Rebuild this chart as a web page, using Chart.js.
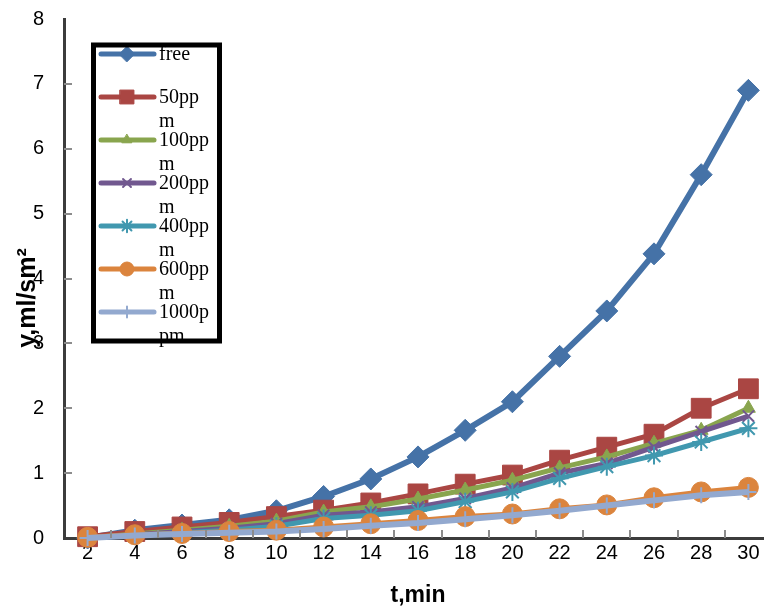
<!DOCTYPE html>
<html>
<head>
<meta charset="utf-8">
<script src="https://cdn.jsdelivr.net/npm/chart.js@4.4.1/dist/chart.umd.min.js"></script>
<style>
  body { margin: 0; overflow: hidden; background: #fff; }
  #wrap { position: relative; width: 800px; height: 609px; }
</style>
</head>
<body>
<div id="wrap"><canvas id="chart"></canvas></div>
<script>
// t, min
const timeLabels = ['2', '4', '6', '8', '10', '12', '14', '16', '18', '20', '22', '24', '26', '28', '30'];
const seriesNames = ['free', '50ppm', '100ppm', '200ppm', '400ppm', '600ppm', '1000ppm'];

// y, ml/sm2
const freeData   = [0, 0.12, 0.2, 0.28, 0.42, 0.64, 0.91, 1.25, 1.66, 2.1, 2.8, 3.5, 4.38, 5.6, 6.9];
const ppm50Data  = [0.02, 0.1, 0.17, 0.24, 0.33, 0.43, 0.54, 0.68, 0.83, 0.97, 1.2, 1.4, 1.6, 2.0, 2.3];
const ppm100Data = [0, 0.06, 0.12, 0.18, 0.26, 0.4, 0.48, 0.6, 0.74, 0.89, 1.08, 1.25, 1.46, 1.66, 2.0];
const ppm200Data = [0, 0.05, 0.1, 0.15, 0.22, 0.35, 0.4, 0.48, 0.61, 0.77, 1.0, 1.15, 1.4, 1.64, 1.88];
const ppm400Data = [0, 0.04, 0.08, 0.12, 0.18, 0.3, 0.35, 0.42, 0.56, 0.71, 0.92, 1.1, 1.27, 1.48, 1.69];
const ppm600Data = [0.01, 0.05, 0.07, 0.1, 0.12, 0.17, 0.22, 0.27, 0.33, 0.37, 0.45, 0.51, 0.62, 0.71, 0.78];
const ppm1000Data = [0, 0.04, 0.06, 0.08, 0.1, 0.14, 0.19, 0.23, 0.29, 0.35, 0.42, 0.5, 0.58, 0.66, 0.71];

const yTicks = [0, 1, 2, 3, 4, 5, 6, 7, 8];

const sans = '"Liberation Sans", Arial, sans-serif';
const serif = '"Liberation Serif", "Times New Roman", serif';

function makeSeries(i, data, color, style, radius, lineWidth, markWidth) {
    return {
        label: seriesNames[i],
        data: data,
        borderColor: color,
        backgroundColor: color,
        borderWidth: lineWidth,
        pointStyle: style,
        pointRadius: radius,
        pointBackgroundColor: color,
        pointBorderColor: color,
        pointBorderWidth: markWidth,
        tension: 0,
        clip: false,
        order: seriesNames.length - i   // later series drawn on top, like Excel
    };
}

const datasets = [
    makeSeries(0, freeData, '#4572a7', 'rectRot', 11, 6, 1),
    makeSeries(1, ppm50Data, '#aa4643', 'rect', 14, 5, 1),
    makeSeries(2, ppm100Data, '#89a54e', 'triangle', 8, 5, 1),
    makeSeries(3, ppm200Data, '#71588f', 'crossRot', 8, 5, 2),
    makeSeries(4, ppm400Data, '#4198af', 'star', 9, 5, 2),
    makeSeries(5, ppm600Data, '#db843d', 'circle', 10, 5, 1),
    makeSeries(6, ppm1000Data, '#93a9cf', 'cross', 8, 6, 2)
];

// split a legend name into lines that fit the box
function wrapText(ctx, text, maxWidth) {
    const lines = [];
    let cur = '';
    for (const ch of text) {
        if (cur && ctx.measureText(cur + ch).width > maxWidth) {
            lines.push(cur);
            cur = ch;
        } else {
            cur += ch;
        }
    }
    if (cur) lines.push(cur);
    return lines;
}

const decorPlugin = {
    id: 'decor',
    afterDraw(chart) {
        const ctx = chart.ctx;
        const area = chart.chartArea;
        const ys = chart.scales.y;

        ctx.save();
        // small tick marks pointing into the plot
        ctx.strokeStyle = '#8c8c8c';
        ctx.lineWidth = 2;
        ctx.beginPath();
        for (let v = 1; v < 8; v++) {
            const y = Math.round(ys.getPixelForValue(v));
            ctx.moveTo(area.left, y);
            ctx.lineTo(area.left + 8, y);
        }
        const step = (area.right - area.left) / timeLabels.length;
        for (let i = 1; i < timeLabels.length; i++) {
            const x = Math.round(area.left + i * step);
            ctx.moveTo(x, area.bottom);
            ctx.lineTo(x, area.bottom - 8);
        }
        ctx.stroke();

        // y axis title, overlapping the tick labels as in the original
        ctx.save();
        ctx.translate(28, 298);
        ctx.rotate(-Math.PI / 2);
        ctx.font = 'bold 25px ' + sans;
        ctx.textAlign = 'center';
        ctx.textBaseline = 'middle';
        ctx.fillStyle = '#000';
        ctx.fillText('y,ml/sm\u00b2', 0, 0);
        ctx.restore();

        // legend box
        const bx = 93.5, by = 45, bw = 126, bh = 296;
        ctx.fillStyle = '#fff';
        ctx.fillRect(bx, by, bw, bh);
        ctx.font = '20px ' + serif;
        ctx.textBaseline = 'middle';
        ctx.textAlign = 'left';
        chart.data.datasets.forEach(function (ds, i) {
            const cy = 54 + i * 43;
            ctx.strokeStyle = ds.borderColor;
            ctx.lineWidth = 5;
            ctx.lineCap = 'round';
            ctx.beginPath();
            ctx.moveTo(101, cy);
            ctx.lineTo(154, cy);
            ctx.stroke();
            ctx.fillStyle = ds.pointBackgroundColor;
            ctx.strokeStyle = ds.pointBorderColor;
            ctx.lineWidth = ds.pointBorderWidth;
            Chart.helpers.drawPoint(ctx, {
                pointStyle: ds.pointStyle,
                radius: ds.pointRadius * 0.7,
                rotation: 0,
                borderWidth: ds.pointBorderWidth
            }, 127, cy);
            ctx.fillStyle = '#000';
            const lines = wrapText(ctx, ds.label, 52);
            lines.forEach(function (t, k) {
                ctx.fillText(t, 159, cy + 1 + k * 24);
            });
        });
        ctx.strokeStyle = '#000';
        ctx.lineWidth = 5;
        ctx.lineCap = 'butt';
        ctx.strokeRect(bx, by, bw, bh);
        ctx.restore();
    }
};

new Chart(document.getElementById('chart'), {
    type: 'line',
    data: { labels: timeLabels, datasets: datasets },
    options: {
        responsive: true,
        maintainAspectRatio: false,
        animation: false,
        devicePixelRatio: 1,
        layout: { padding: { top: 19, right: 28, left: 0, bottom: 0 } },
        plugins: {
            legend: { display: false },
            tooltip: { enabled: false }
        },
        scales: {
            x: {
                offset: true,
                grid: { display: false, drawTicks: false },
                border: { display: true, color: '#3c3c3c', width: 3 },
                ticks: {
                    color: '#000',
                    font: { family: sans, size: 20 },
                    padding: 3,
                    maxRotation: 0,
                    autoSkip: false
                },
                title: {
                    display: true,
                    text: 't,min',
                    color: '#000',
                    font: { family: sans, size: 23, weight: 'bold' },
                    padding: { top: 0, bottom: 0 }
                },
                afterFit(scale) {
                    scale.height = 71;
                    scale.paddingLeft = 0;
                    scale.paddingRight = 0;
                }
            },
            y: {
                min: yTicks[0],
                max: yTicks[yTicks.length - 1],
                grid: { display: false, drawTicks: false },
                border: { display: true, color: '#3c3c3c', width: 3 },
                ticks: {
                    stepSize: 1,
                    color: '#000',
                    font: { family: sans, size: 20 },
                    padding: 20
                },
                afterFit(scale) {
                    scale.width = 64;
                    scale.paddingTop = 0;
                    scale.paddingBottom = 0;
                }
            }
        }
    },
    plugins: [decorPlugin]
});
</script>
</body>
</html>
